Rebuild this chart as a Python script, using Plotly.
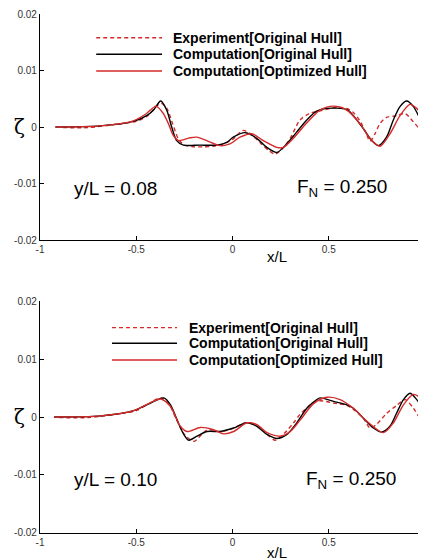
import plotly.graph_objects as go

# ---------------- data ----------------
# Top panel: y/L = 0.08
x_exp_1 = [-0.88, -0.75, -0.6, -0.5, -0.44, -0.4, -0.37, -0.34, -0.31, -0.28, -0.25, -0.2, -0.15, -0.1, -0.05, 0.0, 0.056, 0.1, 0.15, 0.19, 0.22, 0.26, 0.3, 0.35, 0.4, 0.45, 0.5, 0.55, 0.6, 0.63, 0.66, 0.69, 0.715, 0.74, 0.766, 0.8, 0.853, 0.896, 0.94, 0.97, 1.0]
y_exp_1 = [-0.0001, -0.0001, 0.0005, 0.001, 0.002, 0.0035, 0.0042, 0.0032, 0.0005, -0.0022, -0.0032, -0.0035, -0.0035, -0.0034, -0.003, -0.0022, -0.0006, -0.0014, -0.003, -0.0042, -0.0048, -0.0038, -0.002, 0.0012, 0.0024, 0.0028, 0.0032, 0.0035, 0.0032, 0.0025, 0.0012, -0.0008, -0.0025, -0.0012, 0.0006, 0.0017, 0.002, 0.0024, 0.0009, -0.0002, -0.0009]

x_comp_orig_1 = [-0.92, -0.69, -0.515, -0.446, -0.41, -0.373, -0.342, -0.316, -0.29, -0.255, -0.169, -0.082, -0.03, 0.004, 0.065, 0.126, 0.178, 0.23, 0.281, 0.333, 0.385, 0.437, 0.49, 0.593, 0.628, 0.68, 0.723, 0.758, 0.8, 0.835, 0.87, 0.905, 0.94, 0.974, 1.0]
y_comp_orig_1 = [0.0, 0.0002, 0.001, 0.002, 0.003, 0.0046, 0.003, 0.0, -0.0024, -0.0032, -0.0032, -0.0032, -0.0027, -0.0018, -0.001, -0.002, -0.0036, -0.0045, -0.003, -0.0009, 0.0012, 0.0028, 0.0033, 0.0031, 0.002, -0.0003, -0.0024, -0.0033, -0.0018, 0.0012, 0.0036, 0.0046, 0.0036, 0.0015, 0.0]

x_comp_opt_1 = [-0.92, -0.69, -0.515, -0.45, -0.397, -0.36, -0.333, -0.307, -0.28, -0.22, -0.186, -0.134, -0.065, -0.013, 0.039, 0.1, 0.16, 0.23, 0.264, 0.316, 0.385, 0.455, 0.524, 0.593, 0.662, 0.714, 0.766, 0.818, 0.87, 0.922, 0.957, 1.0]
y_comp_opt_1 = [0.0, 0.0002, 0.0011, 0.0023, 0.0037, 0.0024, 0.0006, -0.0015, -0.0024, -0.0019, -0.0018, -0.0024, -0.0033, -0.003, -0.0018, -0.0012, -0.0024, -0.0036, -0.0036, -0.002, 0.0007, 0.003, 0.0037, 0.003, 0.0006, -0.002, -0.0034, -0.0012, 0.002, 0.004, 0.0033, 0.0015]

# Bottom panel: y/L = 0.10
x_exp_2 = [-0.9, -0.75, -0.6, -0.5, -0.43, -0.37, -0.33, -0.29, -0.25, -0.2, -0.16, -0.13, -0.06, 0.0, 0.07, 0.13, 0.18, 0.222, 0.27, 0.317, 0.352, 0.42, 0.455, 0.525, 0.594, 0.628, 0.68, 0.715, 0.75, 0.8, 0.853, 0.897, 0.94, 0.975, 1.0]
y_exp_2 = [-0.0001, -0.0001, 0.0005, 0.0011, 0.0024, 0.0033, 0.0022, -0.0005, -0.003, -0.0042, -0.003, -0.0022, -0.0025, -0.002, -0.001, -0.0016, -0.003, -0.004, -0.0028, -0.001, 0.0005, 0.0025, 0.0028, 0.0024, 0.002, 0.0013, -0.0002, -0.0019, -0.0012, 0.0006, 0.002, 0.003, 0.0015, -0.0002, -0.0006]

x_comp_orig_2 = [-0.927, -0.685, -0.513, -0.426, -0.357, -0.322, -0.288, -0.253, -0.227, -0.184, -0.132, -0.063, 0.006, 0.075, 0.127, 0.179, 0.231, 0.283, 0.334, 0.386, 0.438, 0.455, 0.525, 0.594, 0.628, 0.68, 0.732, 0.775, 0.818, 0.853, 0.888, 0.922, 0.957, 1.0]
y_comp_orig_2 = [0.0, 0.0002, 0.0011, 0.0024, 0.0033, 0.0021, -0.0005, -0.003, -0.004, -0.0033, -0.0025, -0.0025, -0.0019, -0.001, -0.0016, -0.003, -0.0037, -0.003, -0.001, 0.0015, 0.003, 0.0033, 0.0027, 0.0021, 0.0015, -0.0002, -0.0019, -0.0026, -0.0016, 0.0007, 0.003, 0.0041, 0.003, 0.0009]

x_comp_opt_2 = [-0.927, -0.685, -0.513, -0.43, -0.374, -0.322, -0.271, -0.236, -0.167, -0.098, -0.046, 0.006, 0.075, 0.127, 0.179, 0.248, 0.3, 0.352, 0.421, 0.49, 0.559, 0.628, 0.697, 0.784, 0.836, 0.888, 0.94, 0.974, 1.0]
y_comp_opt_2 = [0.0, 0.0002, 0.0011, 0.0024, 0.0031, 0.0018, -0.0016, -0.0025, -0.0018, -0.0022, -0.0029, -0.0025, -0.001, -0.0013, -0.0027, -0.0033, -0.0025, -0.0005, 0.0023, 0.0034, 0.003, 0.0015, -0.0007, -0.0027, -0.001, 0.0021, 0.0039, 0.0033, 0.0019]

series_names = ["Experiment[Original Hull]", "Computation[Original Hull]", "Computation[Optimized Hull]"]
panel_labels = ["y/L = 0.08", "y/L = 0.10"]
froude_label = "F<sub>N</sub> = 0.250"
x_title = "x/L"
y_title = "ζ"
x_ticks = [-1, -0.5, 0, 0.5, 1]
x_tick_text = ["-1", "-0.5", "0", "0.5", "1"]
y_ticks = [-0.02, -0.01, 0, 0.01, 0.02]
y_tick_text = ["-0.02", "-0.01", "0", "0.01", "0.02"]

RED = "#d42a2a"
BLACK = "#000000"
FONT = "Liberation Sans, Arial, sans-serif"

series_colors = [RED, BLACK, RED]
series_dash = ["4px,3px", "solid", "solid"]

fig = go.Figure()

panels = [
    ([x_exp_1, x_comp_orig_1, x_comp_opt_1], [y_exp_1, y_comp_orig_1, y_comp_opt_1], "x", "y"),
    ([x_exp_2, x_comp_orig_2, x_comp_opt_2], [y_exp_2, y_comp_orig_2, y_comp_opt_2], "x2", "y2"),
]
for xs, ys, xa, ya in panels:
    for k in range(3):
        fig.add_trace(go.Scatter(x=xs[k], y=ys[k], mode="lines", name=series_names[k], xaxis=xa, yaxis=ya,
                                 showlegend=False,
                                 line=dict(color=series_colors[k], width=1.4, dash=series_dash[k],
                                           shape="spline", smoothing=0.8)))

axis_common = dict(
    showgrid=False, zeroline=False, showline=True, linecolor="black", linewidth=1.3,
    ticks="inside", ticklen=4, tickwidth=1, tickcolor="black", automargin=False,
    tickfont=dict(family=FONT, size=10, color="#333333"), mirror=False,
)

top_dom = [0.5645, 1.0]
bot_dom = [0.0, 0.447]

# the page body adds an 8px offset; the figure size compensates for it
fig.update_layout(
    width=418, height=552,
    margin=dict(l=32, r=1, t=6, b=27),
    plot_bgcolor="white", paper_bgcolor="white",
    font=dict(family=FONT, color="black"),
    showlegend=False,
    xaxis=dict(axis_common, domain=[0, 1], anchor="y", range=[-1, 1], tickvals=x_ticks, ticktext=x_tick_text),
    yaxis=dict(axis_common, domain=top_dom, anchor="x", range=[-0.02, 0.02], tickvals=y_ticks, ticktext=y_tick_text),
    xaxis2=dict(axis_common, domain=[0, 1], anchor="y2", range=[-1, 1], tickvals=x_ticks, ticktext=x_tick_text),
    yaxis2=dict(axis_common, domain=bot_dom, anchor="x2", range=[-0.02, 0.02], tickvals=y_ticks, ticktext=y_tick_text),
)

# legend key (drawn per panel, in axis-domain coordinates)
legend_layout = [
    # (xref, yref, line x0, line x1, text x, row y positions)
    ("x domain", "y domain", 0.146, 0.317, 0.341, [0.895, 0.822, 0.748]),
    ("x2 domain", "y2 domain", 0.187, 0.356, 0.383, [0.885, 0.818, 0.746]),
]
for xr, yr, lx0, lx1, tx, rows in legend_layout:
    for k in range(3):
        fig.add_shape(type="line", xref=xr, yref=yr, x0=lx0, x1=lx1, y0=rows[k], y1=rows[k],
                      line=dict(color=series_colors[k], width=1.4 if k else 1.3,
                                dash="4px,3px" if k == 0 else "solid"))
        fig.add_annotation(x=tx, y=rows[k], xref=xr, yref=yr, text="<b>" + series_names[k] + "</b>",
                           showarrow=False, xanchor="left", yanchor="middle",
                           font=dict(family=FONT, size=14, color="black"))

x_title_y = [0.5318, -0.0385]
for i, (xr, yr) in enumerate([("x", "y"), ("x2", "y2")]):
    fig.add_annotation(x=-0.61, y=-0.0108, xref=xr, yref=yr, text=panel_labels[i], showarrow=False,
                       font=dict(family=FONT, size=19, color="black"))
    fig.add_annotation(x=0.57 if i == 0 else 0.615, y=-0.0108, xref=xr, yref=yr, text=froude_label,
                       showarrow=False, font=dict(family=FONT, size=19, color="black"))
    fig.add_annotation(x=-0.073, y=0, xref="paper", yref=yr, text=y_title, showarrow=False,
                       font=dict(family="DejaVu Serif, serif", size=20, color="black"))
    fig.add_annotation(x=0.23, y=x_title_y[i], xref=xr, yref="paper", text=x_title,
                       showarrow=False, yanchor="middle", font=dict(family=FONT, size=15, color="black"))

fig.write_html("out.html")
